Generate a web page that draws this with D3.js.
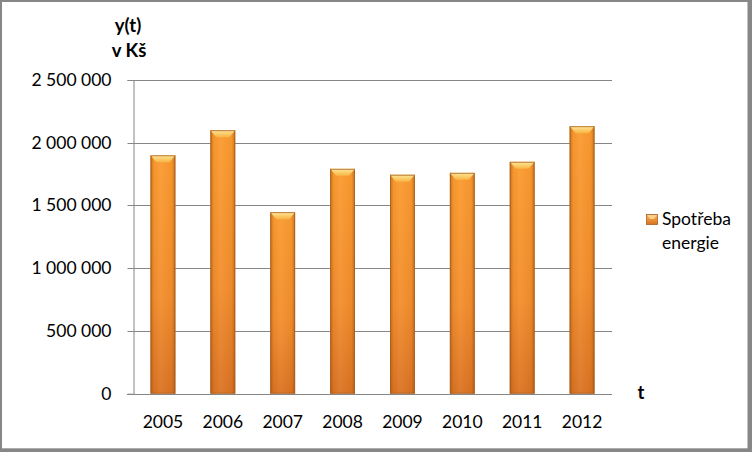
<!DOCTYPE html>
<html>
<head>
<meta charset="utf-8">
<script src="https://cdn.jsdelivr.net/npm/d3@7"></script>
<style>
  html, body { margin: 0; padding: 0; background: #fff; }
  svg { display: block; }
  text { font-family: Lato, "Open Sans", sans-serif; fill: #000; }
</style>
</head>
<body>
<svg id="chart" width="752" height="452"></svg>
<script>
const categories = ["2005", "2006", "2007", "2008", "2009", "2010", "2011", "2012"];
const values = [1900000, 2100000, 1447000, 1792000, 1745000, 1760000, 1848000, 2132000];
const yTicks = [0, 500000, 1000000, 1500000, 2000000, 2500000];
const seriesName = ["Spotřeba", "energie"];
const yTitle = ["y(t)", "v Kš"];
const xTitle = "t";

(function () {
const svg = d3.select("#chart");
const W = 752, H = 452;

// frame
svg.append("rect").attr("x", 0).attr("y", 0).attr("width", W).attr("height", H).attr("fill", "#878787");
svg.append("rect").attr("x", 2).attr("y", 2).attr("width", 745.5).attr("height", 446.3).attr("fill", "#fff");

const defs = svg.append("defs");
const vg = defs.append("linearGradient").attr("id", "bodyV").attr("x1", 0).attr("y1", 0).attr("x2", 0).attr("y2", 1);
vg.append("stop").attr("offset", "0%").attr("stop-color", "#fb9a2e");
vg.append("stop").attr("offset", "60%").attr("stop-color", "#f28d2c");
vg.append("stop").attr("offset", "100%").attr("stop-color", "#da7222");
const hg = defs.append("linearGradient").attr("id", "bodyH").attr("x1", 0).attr("y1", 0).attr("x2", 1).attr("y2", 0);
hg.append("stop").attr("offset", "0%").attr("stop-color", "#8a4a10").attr("stop-opacity", 0.5);
hg.append("stop").attr("offset", "14%").attr("stop-color", "#8a4a10").attr("stop-opacity", 0.05);
hg.append("stop").attr("offset", "40%").attr("stop-color", "#fff").attr("stop-opacity", 0.06);
hg.append("stop").attr("offset", "86%").attr("stop-color", "#8a4a10").attr("stop-opacity", 0.05);
hg.append("stop").attr("offset", "100%").attr("stop-color", "#8a4a10").attr("stop-opacity", 0.5);
const tg = defs.append("linearGradient").attr("id", "bevelTop").attr("x1", 0).attr("y1", 0).attr("x2", 0).attr("y2", 1);
tg.append("stop").attr("offset", "0%").attr("stop-color", "#fee89a");
tg.append("stop").attr("offset", "100%").attr("stop-color", "#f9b444");
const lg = defs.append("linearGradient").attr("id", "legendG").attr("x1", 0).attr("y1", 0).attr("x2", 0).attr("y2", 1);
lg.append("stop").attr("offset", "0%").attr("stop-color", "#f7b45a");
lg.append("stop").attr("offset", "100%").attr("stop-color", "#d8731f");

const pLeft = 133, pRight = 612, pTop = 80, pBottom = 393.7;

const x = d3.scaleBand().domain(categories).range([pLeft, pRight]).paddingInner(0.585).paddingOuter(0.2925);
const y = d3.scaleLinear().domain([0, 2500000]).range([pBottom, pTop]);

const fmt = v => d3.format(",")(v).replace(/,/g, " ");

// gridlines
svg.append("g").selectAll("line").data(yTicks.filter(d => d > 0)).join("line")
  .attr("x1", pLeft).attr("x2", pRight)
  .attr("y1", d => Math.round(y(d)) + 0.5).attr("y2", d => Math.round(y(d)) + 0.5)
  .attr("stroke", "#868686").attr("stroke-width", 1);

// y axis
const yAxis = d3.axisLeft(y).tickValues(yTicks).tickSize(6).tickPadding(16).tickFormat(fmt);
const ya = svg.append("g").attr("transform", `translate(${pLeft + 0.5},0)`).call(yAxis);
ya.select(".domain").attr("stroke", "#868686");
ya.selectAll(".tick line").attr("stroke", "#868686");
ya.selectAll(".tick text").style("font-size", "17.5px").style("font-family", "Lato, sans-serif").attr("fill", "#000");
ya.selectAll(".tick").attr("transform", d => `translate(0,${Math.round(y(d)) + 0.5})`);

// bars
const bars = svg.append("g").selectAll("g").data(categories).join("g");
const bw = x.bandwidth();
bars.append("rect")
  .attr("x", d => x(d)).attr("y", (d, i) => y(values[i]))
  .attr("width", bw).attr("height", (d, i) => y(0) - y(values[i]))
  .attr("fill", "url(#bodyV)");
bars.append("rect")
  .attr("x", d => x(d)).attr("y", (d, i) => y(values[i]))
  .attr("width", bw).attr("height", (d, i) => y(0) - y(values[i]))
  .attr("fill", "url(#bodyH)");
bars.append("polygon")
  .attr("points", (d, i) => {
    const x0 = x(d), x1 = x(d) + bw, t = y(values[i]);
    return `${x0},${t} ${x1},${t} ${x1 - 6},${t + 7} ${x0 + 6},${t + 7}`;
  })
  .attr("fill", "url(#bevelTop)");
bars.append("rect")
  .attr("x", d => x(d) + 0.5).attr("y", (d, i) => y(values[i]) + 0.5)
  .attr("width", bw - 1).attr("height", (d, i) => y(0) - y(values[i]) - 1)
  .attr("fill", "none").attr("stroke", "#a65f22").attr("stroke-opacity", 0.75).attr("stroke-width", 1);

// x axis line
svg.append("line").attr("x1", pLeft - 6).attr("x2", pRight)
  .attr("y1", Math.round(y(0)) + 0.5).attr("y2", Math.round(y(0)) + 0.5)
  .attr("stroke", "#868686");

// x labels
const xAxis = d3.axisBottom(x).tickSize(0).tickPadding(21);
const xa = svg.append("g").attr("transform", `translate(0,${Math.round(y(0)) + 0.5})`).call(xAxis);
xa.select(".domain").remove();
xa.selectAll(".tick text").style("font-size", "17.5px").style("font-family", "Lato, sans-serif").attr("fill", "#000");

// titles
svg.append("text").attr("x", 128).attr("y", 32).attr("text-anchor", "middle")
  .style("font-size", "18.5px").style("font-weight", "bold").text(yTitle[0]);
svg.append("text").attr("x", 129).attr("y", 57).attr("text-anchor", "middle")
  .style("font-size", "18.5px").style("font-weight", "bold").text(yTitle[1]);
svg.append("text").attr("x", 641).attr("y", 399).attr("text-anchor", "middle")
  .style("font-size", "18.5px").style("font-weight", "bold").text(xTitle);

// legend
svg.append("rect").attr("x", 646.5).attr("y", 214.5).attr("width", 11).attr("height", 10)
  .attr("fill", "url(#legendG)").attr("stroke", "#a65f22").attr("stroke-width", 0.8);
svg.append("polygon").attr("points", "647,215 657,215 654,219 650,219").attr("fill", "#fbd088");
svg.append("text").attr("x", 662).attr("y", 225).style("font-size", "17.5px").text(seriesName[0]);
svg.append("text").attr("x", 662).attr("y", 248.5).style("font-size", "17.5px").text(seriesName[1]);
})();
</script>
</body>
</html>
